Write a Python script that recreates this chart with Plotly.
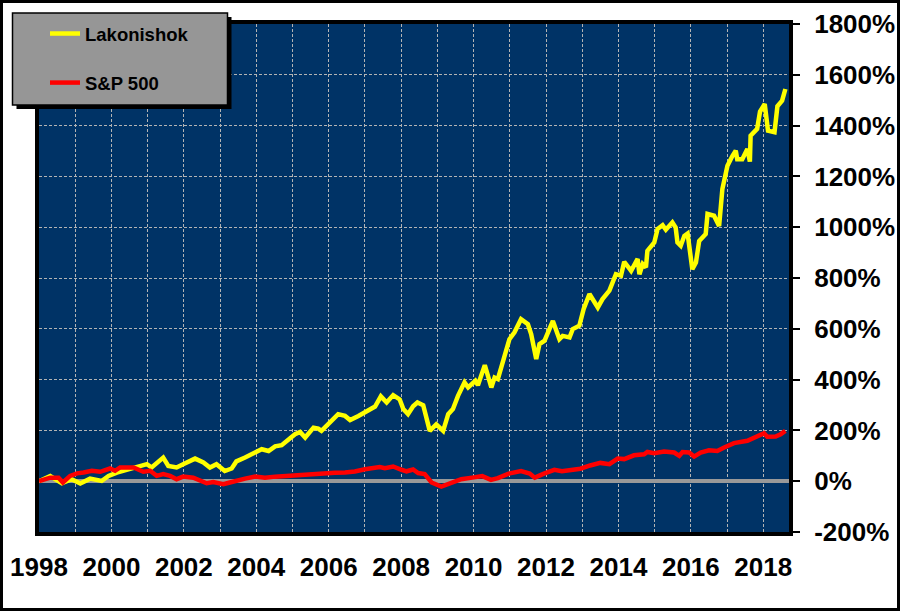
import plotly.graph_objects as go

# ---------------- data ----------------
lak_year = [1998.00, 1998.31, 1998.63, 1998.90, 1999.14, 1999.41, 1999.73, 1999.92, 2000.15, 2000.52,
            2000.79, 2000.98, 2001.11, 2001.43, 2001.57, 2001.80, 2001.98, 2002.31, 2002.54, 2002.72,
            2002.90, 2003.13, 2003.32, 2003.45, 2003.69, 2003.88, 2004.15, 2004.34, 2004.52, 2004.70,
            2004.89, 2005.07, 2005.21, 2005.35, 2005.58, 2005.71, 2005.80, 2006.08, 2006.26, 2006.45,
            2006.59, 2006.82, 2007.00, 2007.28, 2007.44, 2007.60, 2007.78, 2007.96, 2008.06, 2008.19,
            2008.33, 2008.45, 2008.61, 2008.79, 2008.97, 2009.16, 2009.30, 2009.43, 2009.57, 2009.75,
            2009.85, 2010.05, 2010.12, 2010.31, 2010.49, 2010.58, 2010.67, 2010.81, 2010.99, 2011.13,
            2011.31, 2011.50, 2011.59, 2011.73, 2011.82, 2011.96, 2012.19, 2012.37, 2012.46, 2012.65,
            2012.74, 2012.92, 2013.04, 2013.20, 2013.43, 2013.56, 2013.75, 2013.93, 2014.07, 2014.16,
            2014.35, 2014.53, 2014.58, 2014.67, 2014.76, 2014.80, 2014.99, 2015.08, 2015.22, 2015.31,
            2015.49, 2015.58, 2015.63, 2015.72, 2015.82, 2015.91, 2016.04, 2016.14, 2016.23, 2016.41,
            2016.46, 2016.64, 2016.78, 2016.87, 2017.01, 2017.15, 2017.24, 2017.28, 2017.42, 2017.56,
            2017.63, 2017.65, 2017.83, 2017.91, 2018.04, 2018.13, 2018.31, 2018.39, 2018.52, 2018.61]
lak_pct = [0, 20, -8, 8, -9, 10, 1, 21, 34, 50,
           58, 67, 54, 93, 60, 54, 67, 89, 74, 54,
           67, 40, 50, 78, 93, 106, 126, 119, 137, 142,
           165, 185, 194, 172, 211, 207, 198, 241, 264, 257,
           241, 257, 270, 294, 334, 310, 339, 322, 284, 264,
           295, 310, 299, 198, 224, 198, 264, 284, 336, 389,
           369, 395, 378, 457, 369, 408, 402, 474, 559, 586,
           638, 618, 579, 481, 540, 553, 631, 559, 572, 566,
           599, 612, 678, 737, 684, 717, 750, 815, 809, 864,
           828, 875, 815, 855, 842, 907, 940, 993, 1008, 990,
           1019, 999, 940, 927, 966, 975, 835, 861, 946, 973,
           1052, 1045, 1005, 1150, 1242, 1281, 1301, 1268, 1268, 1308,
           1258, 1360, 1387, 1455, 1485, 1380, 1374, 1476, 1498, 1544]

sp_year = [1998.00, 1998.31, 1998.54, 1998.66, 1998.86, 1999.05, 1999.23, 1999.46, 1999.69, 1999.96,
           2000.10, 2000.24, 2000.61, 2000.88, 2001.07, 2001.25, 2001.43, 2001.62, 2001.80, 2001.98,
           2002.26, 2002.44, 2002.63, 2002.81, 2003.09, 2003.27, 2003.45, 2003.69, 2003.97, 2004.24,
           2004.52, 2004.80, 2005.07, 2005.35, 2005.62, 2005.90, 2006.17, 2006.45, 2006.72, 2007.00,
           2007.23, 2007.41, 2007.55, 2007.78, 2008.01, 2008.15, 2008.33, 2008.47, 2008.65, 2008.84,
           2009.11, 2009.30, 2009.66, 2009.96, 2010.24, 2010.48, 2010.67, 2010.97, 2011.31, 2011.55,
           2011.69, 2011.96, 2012.23, 2012.44, 2012.72, 2012.95, 2013.22, 2013.50, 2013.75, 2013.98,
           2014.16, 2014.43, 2014.71, 2014.80, 2014.99, 2015.26, 2015.54, 2015.68, 2015.77, 2015.95,
           2016.09, 2016.27, 2016.50, 2016.73, 2016.92, 2017.19, 2017.56, 2017.83, 2018.02, 2018.11,
           2018.34, 2018.48, 2018.61]
sp_pct = [0, 14, 14, -5, 21, 31, 34, 41, 37, 50,
          41, 54, 54, 37, 41, 21, 28, 21, 8, 18,
          14, 5, -8, -3, -12, -5, 3, 10, 18, 14,
          18, 21, 24, 24, 26, 30, 33, 34, 38, 47,
          50, 56, 51, 58, 45, 39, 46, 32, 28, -5,
          -21, -12, 8, 14, 20, 5, 12, 30, 40, 30,
          14, 31, 45, 39, 46, 49, 62, 72, 67, 89,
          87, 102, 106, 115, 110, 117, 113, 100, 115, 113,
          97, 113, 122, 119, 133, 150, 159, 176, 189, 175,
          176, 185, 198]

series_names = ["Lakonishok", "S&P 500"]
series_colors = ["#ffff00", "#ff0000"]
x_tick_years = list(range(1998, 2019, 2))
x_tick_labels = [str(y) for y in x_tick_years]
y_tick_vals = list(range(-200, 1801, 200))
y_tick_labels = [f"{v}%" for v in y_tick_vals]

# ---------------- layout geometry ----------------
W, H = 901, 612
ML, MR, MT, MB = 39, 112, 24, 80
PW, PH = W - ML - MR, H - MT - MB


def px_x(p):
    return (p - ML) / PW


def px_y(p):
    return (H - MB - p) / PH


font_family = "Liberation Sans, Arial, sans-serif"
grid_col = "#b4b4b4"

fig = go.Figure()
for name, col, xs, ys in [(series_names[0], series_colors[0], lak_year, lak_pct),
                          (series_names[1], series_colors[1], sp_year, sp_pct)]:
    fig.add_trace(go.Scatter(x=xs, y=ys, name=name, mode="lines",
                             line=dict(color=col, width=4.5), legendgroup=name))

shapes = [
    # legend shadow
    dict(type="rect", xref="paper", yref="paper", layer="above",
         x0=px_x(16.5), x1=px_x(231.5), y0=px_y(109), y1=px_y(17),
         fillcolor="black", line=dict(width=0)),
    # legend box
    dict(type="rect", xref="paper", yref="paper", layer="above",
         x0=px_x(12.5), x1=px_x(227.5), y0=px_y(105), y1=px_y(13),
         fillcolor="#969696", line=dict(color="black", width=1.5)),
    # outer chart frame
    dict(type="rect", xref="paper", yref="paper", layer="above",
         x0=px_x(1.5), x1=px_x(898.5), y0=px_y(609.5), y1=px_y(1.5),
         fillcolor="rgba(0,0,0,0)", line=dict(color="black", width=3)),
]

fig.update_layout(
    width=W, height=H,
    margin=dict(l=ML, r=MR, t=MT, b=MB, pad=0, autoexpand=False),
    paper_bgcolor="white",
    plot_bgcolor="#003366",
    font=dict(family=font_family, color="black"),
    showlegend=True,
    legend=dict(x=px_x(45), y=px_y(15), xanchor="left", yanchor="top",
                bgcolor="rgba(0,0,0,0)", borderwidth=0,
                font=dict(family=font_family, size=18.5, color="black", weight="bold"),
                traceorder="grouped", tracegroupgap=22),
    shapes=shapes,
    xaxis=dict(range=[1998, 2018.71], tickmode="array", tickvals=x_tick_years,
               ticktext=x_tick_labels, ticks="", ticklabelstandoff=9,
               tickfont=dict(family=font_family, size=26, color="black", weight="bold"),
               showgrid=True, gridcolor=grid_col, griddash="3px,2px", gridwidth=1,
               minor=dict(dtick=1, tick0=1998, showgrid=True, gridcolor=grid_col,
                          griddash="3px,2px", gridwidth=1),
               showline=True, mirror=True, linecolor="black", linewidth=4,
               zeroline=False, fixedrange=True),
    yaxis=dict(range=[-200, 1800], tickmode="array", tickvals=y_tick_vals,
               ticktext=y_tick_labels, side="right",
               ticks="outside", ticklen=7, tickwidth=1.5, tickcolor="black",
               ticklabelstandoff=9,
               tickfont=dict(family=font_family, size=26, color="black", weight="bold"),
               showgrid=True, gridcolor=grid_col, griddash="3px,2px", gridwidth=1,
               zeroline=True, zerolinecolor="#999999", zerolinewidth=4,
               showline=True, mirror=True, linecolor="black", linewidth=4,
               fixedrange=True),
)

fig.write_html("out.html", config={"displayModeBar": False},
               post_script="document.body.style.margin='0px';document.body.style.overflow='hidden';")
